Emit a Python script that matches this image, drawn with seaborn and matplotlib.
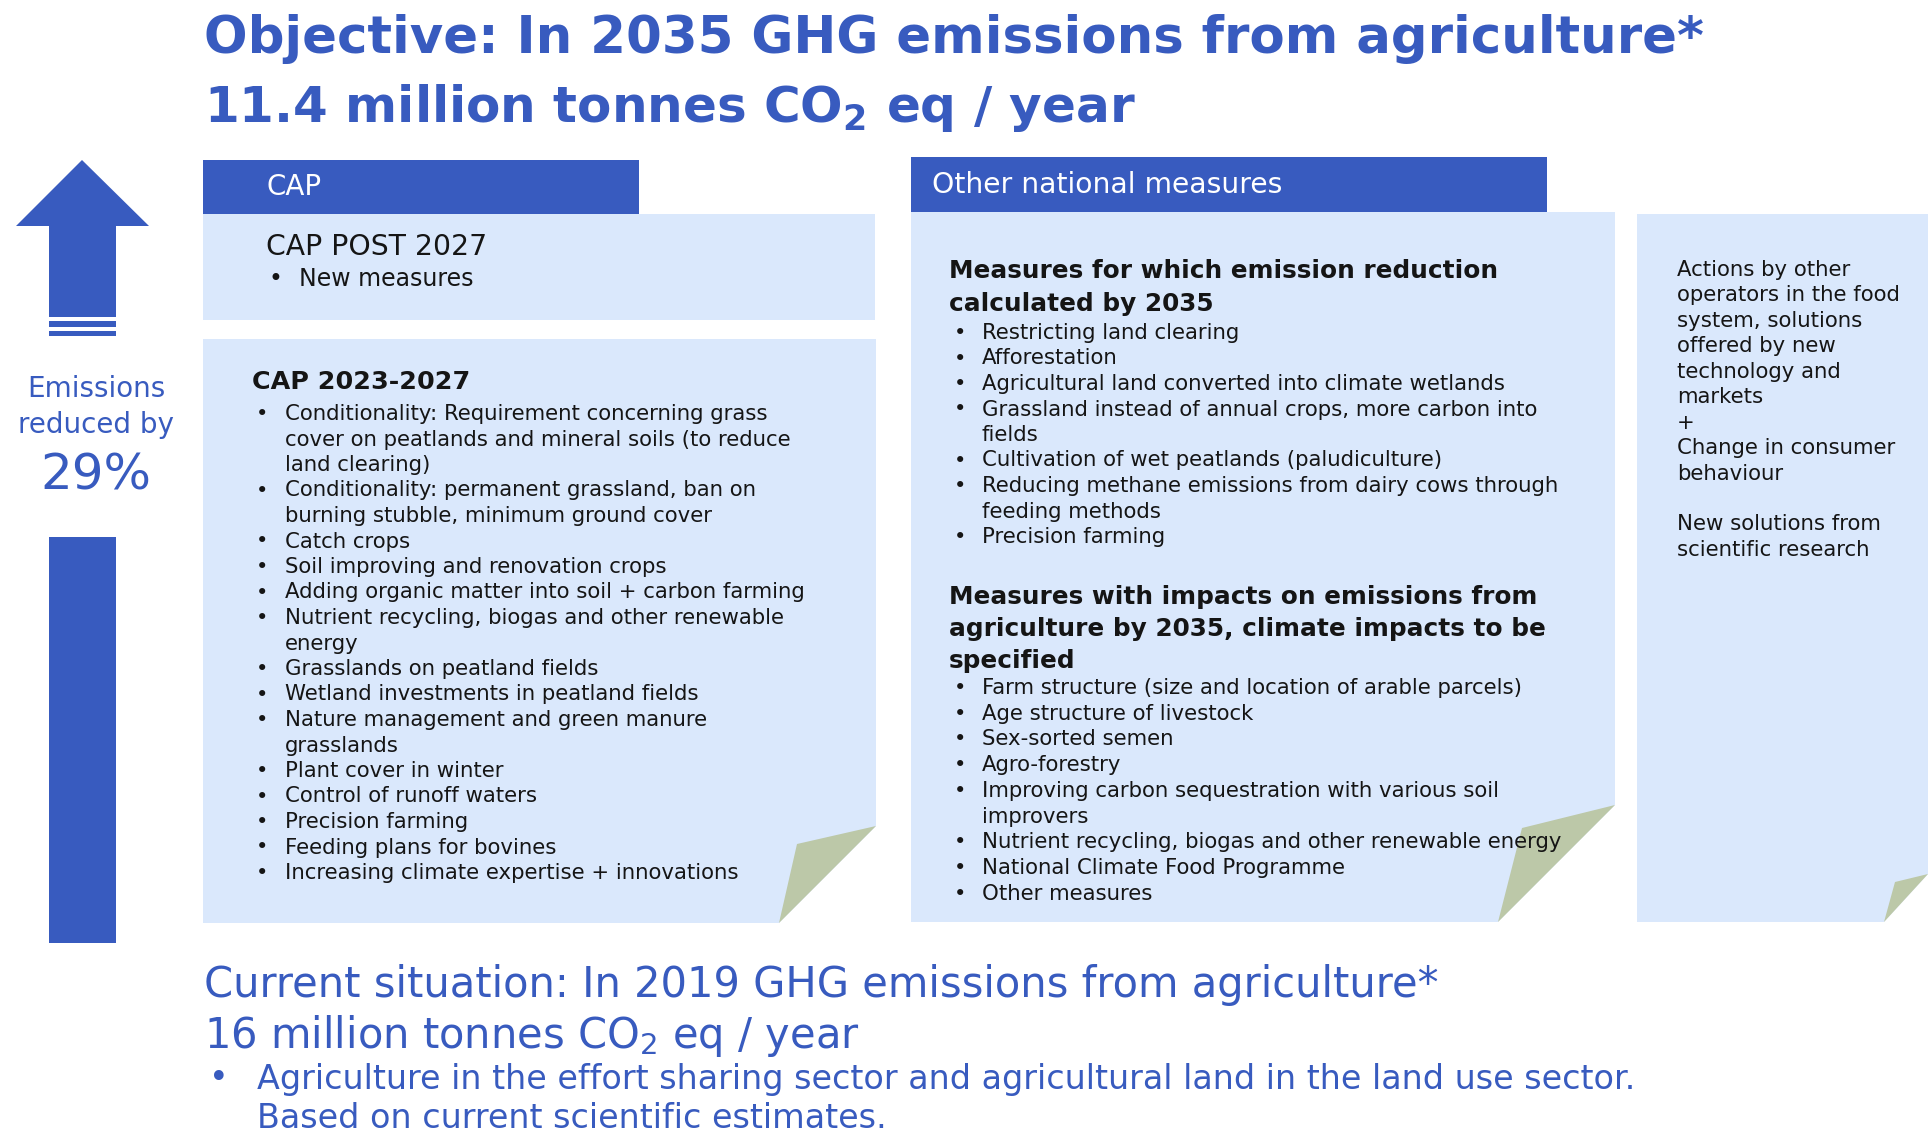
"""
Infographic: agricultural GHG emissions objective for 2035 and the
measures (CAP + other national measures) expected to get there.
"""

import matplotlib
matplotlib.use("Agg")
import matplotlib.pyplot as plt
import seaborn as sns
from matplotlib.patches import Polygon, Rectangle

# ---- content -------------------------------------------------------------
objective_lines = [
    "Objective: In 2035 GHG emissions from agriculture*",
    r"11.4 million tonnes CO$_\mathbf{2}$ eq / year",
]
reduction_label = ["Emissions", "reduced by"]
reduction_pct = 29

cap_header = "CAP"
cap_post_title = "CAP POST 2027"
cap_post_items = ["New measures"]

cap_2023_title = "CAP 2023-2027"
cap_2023_items = [
    "Conditionality: Requirement concerning grass\ncover on peatlands and mineral soils (to reduce\nland clearing)",
    "Conditionality: permanent grassland, ban on\nburning stubble, minimum ground cover",
    "Catch crops",
    "Soil improving and renovation crops",
    "Adding organic matter into soil + carbon farming",
    "Nutrient recycling, biogas and other renewable\nenergy",
    "Grasslands on peatland fields",
    "Wetland investments in peatland fields",
    "Nature management and green manure\ngrasslands",
    "Plant cover in winter",
    "Control of runoff waters",
    "Precision farming",
    "Feeding plans for bovines",
    "Increasing climate expertise + innovations",
]

national_header = "Other national measures"
calculated_title = "Measures for which emission reduction\ncalculated by 2035"
calculated_items = [
    "Restricting land clearing",
    "Afforestation",
    "Agricultural land converted into climate wetlands",
    "Grassland instead of annual crops, more carbon into\nfields",
    "Cultivation of wet peatlands (paludiculture)",
    "Reducing methane emissions from dairy cows through\nfeeding methods",
    "Precision farming",
]
impact_title = "Measures with impacts on emissions from\nagriculture by 2035, climate impacts to be\nspecified"
impact_items = [
    "Farm structure (size and location of arable parcels)",
    "Age structure of livestock",
    "Sex-sorted semen",
    "Agro-forestry",
    "Improving carbon sequestration with various soil\nimprovers",
    "Nutrient recycling, biogas and other renewable energy",
    "National Climate Food Programme",
    "Other measures",
]

other_actors_lines = [
    "Actions by other", "operators in the food", "system, solutions",
    "offered by new", "technology and", "markets", "+",
    "Change in consumer", "behaviour", "",
    "New solutions from", "scientific research",
]

current_lines = [
    "Current situation: In 2019 GHG emissions from agriculture*",
    r"16 million tonnes CO$_2$ eq / year",
]
current_note = "Agriculture in the effort sharing sector and agricultural land in the land use sector.\nBased on current scientific estimates."

# ---- style ---------------------------------------------------------------
BLUE = "#385BBF"
LIGHT = "#DAE8FC"
FOLD = "#BCC8A8"
INK = "#151515"

sns.set_theme(style="white")
plt.rcParams["font.family"] = ["DejaVu Sans"]

W, H = 1928, 1132
fig = plt.figure(figsize=(W / 100, H / 100), dpi=100)
ax = fig.add_axes([0, 0, 1, 1])
ax.set_xlim(0, W)
ax.set_ylim(H, 0)
ax.axis("off")


def folded_box(x0, y0, x1, y1, cut_top, cut_left, inner):
    """Light box with a turned-up bottom-right corner."""
    ax.add_patch(Polygon([(x0, y0), (x1, y0), (x1, cut_top), (cut_left, y1), (x0, y1)],
                         closed=True, facecolor=LIGHT, edgecolor="none", zorder=1))
    ax.add_patch(Polygon([(x1, cut_top), inner, (cut_left, y1)],
                         closed=True, facecolor=FOLD, edgecolor="none", zorder=2))


def bullet_list(items, xb, xt, y, dy, size):
    for item in items:
        ax.text(xb, y, "•", fontsize=size, color=INK, va="center", zorder=5)
        for line in item.split("\n"):
            ax.text(xt, y, line, fontsize=size, color=INK, va="center", zorder=5)
            y += dy
    return y


def text_lines(lines, x, y, dy, size, **kw):
    for line in lines:
        ax.text(x, y, line, fontsize=size, va="center", zorder=5, **kw)
        y += dy


# ---- title ---------------------------------------------------------------
ax.text(204, 53, objective_lines[0], fontsize=37, fontweight="bold", color=BLUE, va="baseline")
ax.text(204, 122, objective_lines[1], fontsize=36, fontweight="bold", color=BLUE, va="baseline")

# ---- left arrow + reduction ---------------------------------------------
ax.add_patch(Polygon([(82, 160), (149, 226), (116, 226), (116, 317), (49, 317),
                      (49, 226), (16, 226)], closed=True, facecolor=BLUE, edgecolor="none"))
ax.add_patch(Rectangle((49, 321), 67, 6, facecolor=BLUE, edgecolor="none"))
ax.add_patch(Rectangle((49, 331), 67, 5, facecolor=BLUE, edgecolor="none"))
ax.add_patch(Rectangle((49, 537), 67, 406, facecolor=BLUE, edgecolor="none"))
ax.text(96, 397, reduction_label[0], fontsize=20, color=BLUE, ha="center", va="baseline")
ax.text(96, 433, reduction_label[1], fontsize=20, color=BLUE, ha="center", va="baseline")
ax.text(96, 490, f"{reduction_pct}%", fontsize=36, color=BLUE, ha="center", va="baseline")

# ---- CAP column ----------------------------------------------------------
ax.add_patch(Rectangle((203, 160), 436, 54, facecolor=BLUE, edgecolor="none", zorder=2))
ax.text(266, 187, cap_header, fontsize=20, color="white", va="center", zorder=5)
ax.add_patch(Rectangle((203, 214), 672, 106, facecolor=LIGHT, edgecolor="none", zorder=1))
ax.text(266, 247, cap_post_title, fontsize=20.3, color=INK, va="center", zorder=5)
bullet_list(cap_post_items, 268, 299, 279, 25.5, 17)

folded_box(203, 339, 876, 923, 826, 779, (797, 844))
ax.text(252, 382, cap_2023_title, fontsize=18.3, fontweight="bold", color=INK, va="center", zorder=5)
bullet_list(cap_2023_items, 256, 285, 414, 25.5, 15.3)

# ---- other national measures ---------------------------------------------
ax.add_patch(Rectangle((911, 157), 636, 55, facecolor=BLUE, edgecolor="none", zorder=2))
ax.text(932, 185, national_header, fontsize=20.3, color="white", va="center", zorder=5)
folded_box(911, 212, 1615, 922, 805, 1498, (1522, 828))
text_lines(calculated_title.split("\n"), 949, 271, 33, 17.8, fontweight="bold", color=INK)
bullet_list(calculated_items, 954, 982, 333, 25.5, 15.3)
text_lines(impact_title.split("\n"), 949, 597, 32, 17.8, fontweight="bold", color=INK)
bullet_list(impact_items, 954, 982, 688, 25.7, 15.3)

# ---- other actors --------------------------------------------------------
folded_box(1637, 214, 1928, 922, 874, 1884, (1895, 882))
text_lines(other_actors_lines, 1677, 270, 25.45, 15.3, color=INK)

# ---- current situation ---------------------------------------------------
ax.text(204, 997, current_lines[0], fontsize=30, color=BLUE, va="baseline")
ax.text(204, 1048, current_lines[1], fontsize=30, color=BLUE, va="baseline")
ax.text(209, 1079, "•", fontsize=24, color=BLUE, va="center")
text_lines(current_note.split("\n"), 257, 1079, 40, 24, color=BLUE)

fig.savefig("out.png", dpi=100, facecolor="white")
